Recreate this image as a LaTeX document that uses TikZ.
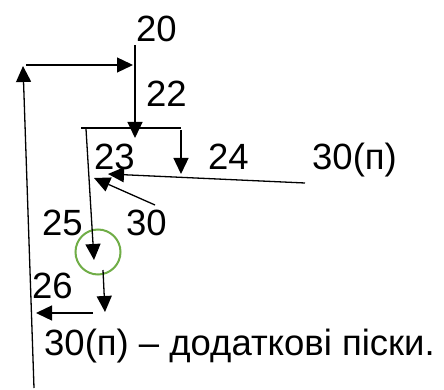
\documentclass[tikz,border=0pt]{standalone}
\usepackage{fontspec}
\setmainfont{Liberation Sans}
\usetikzlibrary{arrows.meta}
\definecolor{ringgreen}{HTML}{70AD47}
\begin{document}
\begin{tikzpicture}[x=1pt,y=-1pt,
  flow/.style={line width=1.3pt,-{Triangle[length=16pt,width=15pt]}},
  plain/.style={line width=1.3pt},
  lbl/.style={inner sep=0pt,anchor=base west,font=\fontsize{36.5}{40}\selectfont},
  ring/.style={draw=ringgreen,line width=2pt,circle,minimum size=45pt,inner sep=0pt}]
\useasboundingbox (0,0) rectangle (444,390);

% labels
\node[lbl] (n20) at (136,42) {20};
\node[lbl] (n22) at (146,107) {22};
\node[lbl] (n23) at (94,170) {23};
\node[lbl] (n24) at (208,170) {24};
\node[lbl] (n30p) at (312,170) {30(п)};
\node[lbl] (n25) at (42,235) {25};
\node[lbl] (n30) at (126,235) {30};
\node[lbl] (n26) at (32,298) {26};
\node[lbl] (note) at (44,355) {30(п) – додаткові піски.};

% highlighted point
\node[ring] (hl) at (98,252) {};

% connector ends
\coordinate (inTop) at (135,45);
\coordinate (inHit) at (135,138);
\coordinate (retL) at (26,65);
\coordinate (retR) at (133,65);
\coordinate (loopBot) at (34,388);
\coordinate (loopTop) at (23,66);
\coordinate (barL) at (81,128);
\coordinate (barR) at (181,128);
\coordinate (rdTop) at (181,130);
\coordinate (rdTip) at (181,174);
\coordinate (ldTop) at (86,129);
\coordinate (ldTip) at (94,260);
\coordinate (sandS) at (305,183);
\coordinate (sandT) at (108,174);
\coordinate (thS) at (155,205);
\coordinate (thT) at (94,178);
\coordinate (dnS) at (103,270);
\coordinate (dnT) at (105,312);
\coordinate (ltS) at (93,313);
\coordinate (ltT) at (36,313);

% connectors
\draw[flow] (inTop) -- (inHit);
\draw[flow] (retL) -- (retR);
\draw[flow] (loopBot) -- (loopTop);
\draw[plain] (barL) -- (barR);
\draw[flow] (rdTop) -- (rdTip);
\draw[flow] (ldTop) -- (ldTip);
\draw[flow] (sandS) -- (sandT);
\draw[flow] (thS) -- (thT);
\draw[flow] (dnS) -- (dnT);
\draw[flow] (ltS) -- (ltT);
\end{tikzpicture}
\end{document}
